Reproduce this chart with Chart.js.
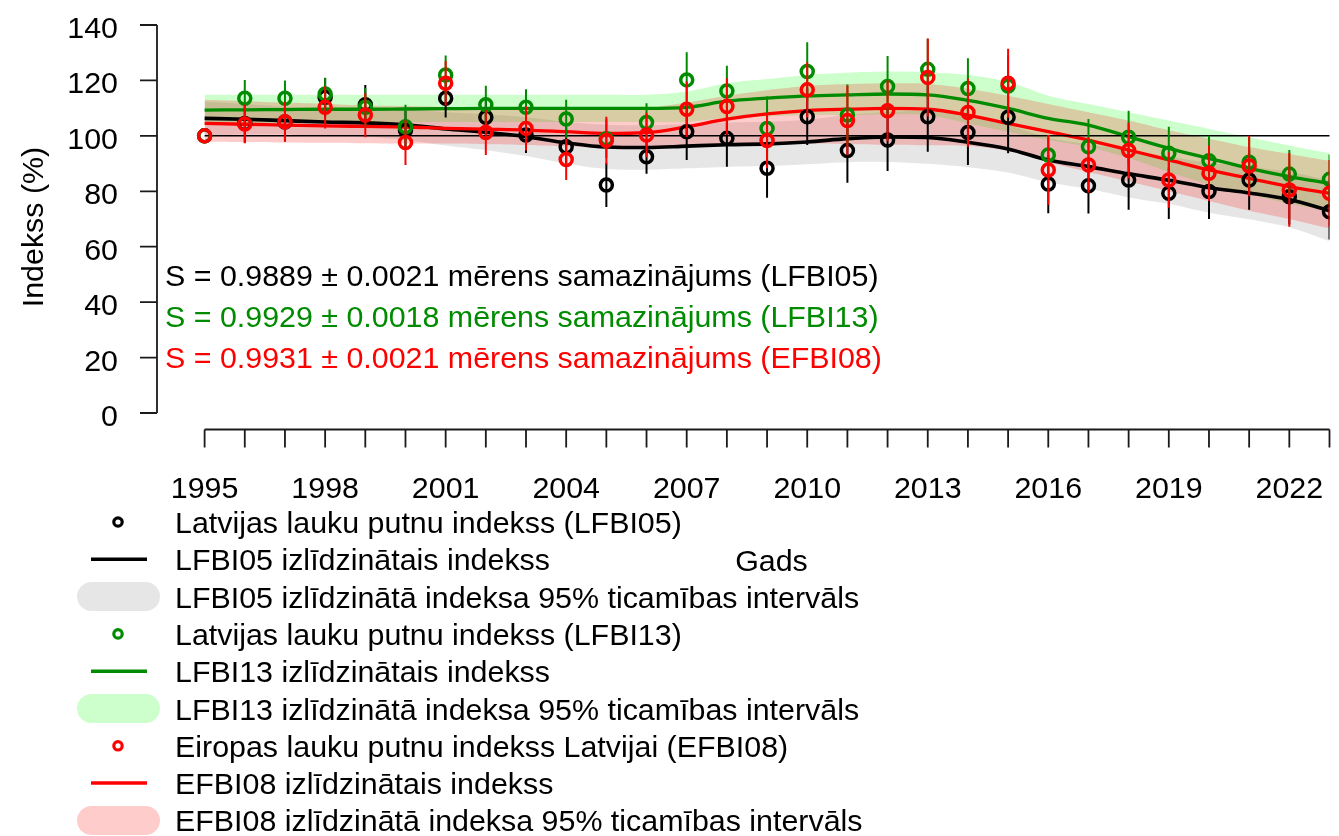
<!DOCTYPE html>
<html>
<head>
<meta charset="utf-8">
<title>Lauku putnu indekss</title>
<script src="https://cdn.jsdelivr.net/npm/chart.js@4/dist/chart.umd.min.js"></script>
<style>
  html, body { margin: 0; padding: 0; background: #ffffff; }
  #wrap { position: relative; width: 1339px; height: 836px; }
</style>
</head>
<body>
<div id="wrap"><canvas id="chart" width="1339" height="836"></canvas></div>
<script>
// ---- data ----
const years = [1995,1996,1997,1998,1999,2000,2001,2002,2003,2004,2005,2006,2007,2008,2009,
               2010,2011,2012,2013,2014,2015,2016,2017,2018,2019,2020,2021,2022,2023];

// LFBI05
const lfbi05    = [100,104.5,105,113.9,111.2,102,113.6,106.7,100.3,96.1,82.3,92.5,101.5,99.1,88.3,
                   106.9,94.7,98.5,106.9,101.2,106.7,82.6,82,84.1,79.3,79.9,84.1,78,72.6];
const lfbi05Err = [0,7,7,7,7.2,7,7,7,6.5,7,8,6.2,10.2,10.2,10.6,
                   10.2,11.6,11.2,12.6,11.7,13,10.5,10,10.8,9.3,9.9,10.8,10,10];
const lfbi05Fit = [106.3,106,105.5,105,104.7,104,102.5,101.3,99.7,97.5,96,95.8,96.3,96.8,97.1,
                   97.8,99,99.6,99.4,97.7,95.3,91.3,88.9,86.3,84,81.3,79.4,77,73];
const lfbi05Lo  = [100.3,100.5,100.5,100,99.7,98.5,96.5,94.8,92.7,90,88,87.8,88.3,88.8,89.1,
                   89.8,90.5,90.6,89.9,88.7,86.8,83.3,80.9,77.8,75.5,72.3,69.9,67,62];
const lfbi05Hi  = [112.3,111.5,110.5,110,109.7,109.5,108.5,107.8,106.7,105,104,103.8,104.3,104.8,105.1,
                   105.8,107.5,108.6,108.9,106.7,103.8,99.3,96.9,94.8,92.5,90.3,88.9,87,84];

// LFBI13
const lfbi13    = [100,113.6,113.6,115.1,110.3,103.3,122,111.2,110.3,106.1,99,104.8,120.2,116.2,102.7,
                   123.2,107.5,117.8,124,117.1,118,93.1,96.1,99.5,93.7,91,90.5,86.2,84.3];
const lfbi13Err = [0,6.6,6.4,5.9,7,7.9,7,6.9,6.5,6.9,7,7,10,9.1,11.5,
                   10.6,11,11,11,10.9,11,7,10,9.6,9.6,9,9,8.7,9];
const lfbi13Fit = [109.3,109.4,109.5,109.6,109.6,109.7,109.8,109.9,109.9,109.9,109.9,109.9,110.3,112.5,113.6,
                   114.4,114.8,115.1,114.8,112.8,109.9,106.3,103.9,99.7,95.5,91.9,88.3,85.3,82.9];
const lfbi13Lo  = [104.5,104.6,104.7,104.8,104.8,104.9,105,105,105,105,105,105,105,106.5,107,
                   107.5,107.5,107.8,107.5,104.5,101.5,98.5,96,92,87,82.5,79,75.5,73];
const lfbi13Hi  = [114.8,114.8,114.8,114.8,114.8,114.8,114.8,114.8,114.8,114.8,114.8,114.8,116,119,120.5,
                   122,122.8,123.2,123,122,119.5,114.5,111.5,108.5,105.5,102.5,99.5,96.5,93.7];

// EFBI08
const efbi08    = [100,104.3,105.1,110.3,107.5,97.6,119,101.2,102.7,91.5,98.3,100.3,109.6,110.6,98.3,
                   116.6,105.5,109.1,121.1,108.4,119,87.7,89.5,94.7,84.1,86.5,89.1,80.5,79.3];
const efbi08Err = [0,7,7.2,7.6,8,8.1,8,8.1,8,7.4,8.6,8,10,10.2,10,
                   10,12.5,11,14,12.3,12.4,12.6,10,10,10,10,10.9,13.3,12];
const efbi08Fit = [104.5,104.2,103.9,103.6,103.4,103.2,102.7,102.4,102.1,101.5,100.9,101.2,103.3,106,107.9,
                   109.1,109.6,109.9,109.6,107.5,104.5,101.5,98.5,94.9,91.3,87.7,84.7,81.7,79.3];
const efbi08Lo  = [97.9,97.8,97.6,97.5,97.3,97.2,97.2,97,96.7,96.2,95.7,95.8,96.5,97,97.2,
                   97.2,97,96.8,96.6,96.3,94.5,90.5,87,83.5,80,76.5,73,70,66.6];
const efbi08Hi  = [113,112.5,112,111.5,111,110.8,110.5,110.3,110,109.5,109.5,110,112,114.5,116.5,
                   118,118.7,119,118.8,117,114.5,111.5,108.5,105.5,102,99,96,93.5,91];

const baseline = 100;
const yTicks = [0,20,40,60,80,100,120,140];
const xLabelYears = [1995,1998,2001,2004,2007,2010,2013,2016,2019,2022];

const statLines = [
  'S = 0.9889 \u00B1 0.0021 m\u0113rens samazin\u0101jums (LFBI05)',
  'S = 0.9929 \u00B1 0.0018 m\u0113rens samazin\u0101jums (LFBI13)',
  'S = 0.9931 \u00B1 0.0021 m\u0113rens samazin\u0101jums (EFBI08)'
];
const legendTexts = [
  'Latvijas lauku putnu indekss (LFBI05)',
  'LFBI05 izl\u012Bdzin\u0101tais indekss',
  'LFBI05 izl\u012Bdzin\u0101t\u0101 indeksa 95% ticam\u012Bbas interv\u0101ls',
  'Latvijas lauku putnu indekss (LFBI13)',
  'LFBI13 izl\u012Bdzin\u0101tais indekss',
  'LFBI13 izl\u012Bdzin\u0101t\u0101 indeksa 95% ticam\u012Bbas interv\u0101ls',
  'Eiropas lauku putnu indekss Latvijai (EFBI08)',
  'EFBI08 izl\u012Bdzin\u0101tais indekss',
  'EFBI08 izl\u012Bdzin\u0101t\u0101 indeksa 95% ticam\u012Bbas interv\u0101ls'
];
const xTitle = 'Gads';
const yTitle = 'Indekss (%)';

// ---- styling ----
const BLACK = '#000000';
const GREEN = '#008B00';
const RED = '#FF0000';
const BAND_GRAY = 'rgba(128,128,128,0.2)';
const BAND_GREEN = 'rgba(0,255,0,0.2)';
const BAND_RED = 'rgba(255,0,0,0.2)';
const FONT = '30.4px "Liberation Sans", Arial, Helvetica, sans-serif';

const xy = (vals) => years.map((yr, i) => ({ x: yr, y: vals[i] }));
const bars = (vals, errs) => {
  const out = [];
  years.forEach((yr, i) => {
    if (!errs[i]) return;
    out.push({ x: yr, y: vals[i] - errs[i] }, { x: yr, y: vals[i] + errs[i] }, { x: yr, y: null });
  });
  return out;
};

const bandLo = (vals, order) => ({
  data: xy(vals), borderWidth: 0, pointRadius: 0, fill: false, tension: 0.3, order
});
const bandHi = (vals, color, order) => ({
  data: xy(vals), borderWidth: 0, pointRadius: 0, fill: '-1', backgroundColor: color, tension: 0.3, order
});
const fitLine = (vals, color, width, order) => ({
  data: xy(vals), borderColor: color, borderWidth: width, pointRadius: 0, fill: false,
  cubicInterpolationMode: 'monotone', order
});
const errLine = (vals, errs, color, order) => ({
  data: bars(vals, errs), borderColor: color, borderWidth: 2, pointRadius: 0, fill: false,
  spanGaps: false, order
});
const pointSet = (vals, color, order) => ({
  data: xy(vals), showLine: false, pointStyle: 'circle', pointRadius: 6, pointBorderWidth: 3.5,
  borderWidth: 3.5, pointBorderColor: color, pointBackgroundColor: 'rgba(0,0,0,0)', borderColor: color, order
});

const datasets = [
  bandLo(lfbi05Lo, 20), bandHi(lfbi05Hi, BAND_GRAY, 20),
  bandLo(lfbi13Lo, 19), bandHi(lfbi13Hi, BAND_GREEN, 19),
  bandLo(efbi08Lo, 18), bandHi(efbi08Hi, BAND_RED, 18),
  fitLine(lfbi05Fit, BLACK, 3.6, 17),
  fitLine(lfbi13Fit, GREEN, 3.3, 16),
  fitLine(efbi08Fit, RED, 3.3, 15),
  { data: [{ x: years[0], y: baseline }, { x: years[years.length - 1] + 1, y: baseline }],
    borderColor: BLACK, borderWidth: 1.5, pointRadius: 0, fill: false, order: 14 },
  errLine(lfbi05, lfbi05Err, BLACK, 13), pointSet(lfbi05, BLACK, 12),
  errLine(lfbi13, lfbi13Err, GREEN, 11), pointSet(lfbi13, GREEN, 10),
  errLine(efbi08, efbi08Err, RED, 9), pointSet(efbi08, RED, 8)
];

// axes, annotations and legend drawn in base-graphics style
const decorPlugin = {
  id: 'decor',
  afterDraw(chart) {
    const { ctx, chartArea } = chart;
    const xs = chart.scales.x, ys = chart.scales.y;
    ctx.save();
    ctx.font = FONT;
    ctx.lineCap = 'butt';

    // y axis
    const ax = chartArea.left;
    ctx.strokeStyle = '#1a1a1a';
    ctx.lineWidth = 1.8;
    ctx.beginPath();
    ctx.moveTo(ax, ys.getPixelForValue(yTicks[0]));
    ctx.lineTo(ax, ys.getPixelForValue(yTicks[yTicks.length - 1]));
    yTicks.forEach(v => {
      const py = ys.getPixelForValue(v);
      ctx.moveTo(ax, py); ctx.lineTo(ax - 17, py);
    });
    ctx.stroke();
    ctx.fillStyle = '#000';
    ctx.textAlign = 'right';
    ctx.textBaseline = 'alphabetic';
    yTicks.forEach(v => ctx.fillText(String(v), ax - 39, ys.getPixelForValue(v) + 13));

    // x axis
    const ay = chartArea.bottom + 1;
    ctx.beginPath();
    ctx.moveTo(xs.getPixelForValue(years[0]), ay);
    ctx.lineTo(xs.getPixelForValue(years[years.length - 1]), ay);
    years.forEach(yr => {
      const px = xs.getPixelForValue(yr);
      ctx.moveTo(px, ay); ctx.lineTo(px, ay + 18);
    });
    ctx.stroke();
    ctx.textAlign = 'center';
    xLabelYears.forEach(yr => ctx.fillText(String(yr), xs.getPixelForValue(yr), 498));

    // axis titles
    ctx.fillText(xTitle, (chartArea.left + 1386) / 2, 571);
    ctx.save();
    ctx.translate(43, 227);
    ctx.rotate(-Math.PI / 2);
    ctx.fillText(yTitle, 0, 0);
    ctx.restore();

    // trend statements
    ctx.textAlign = 'left';
    const statColors = [BLACK, GREEN, RED];
    statLines.forEach((t, i) => {
      ctx.fillStyle = statColors[i];
      ctx.fillText(t, 165, 286 + i * 41);
    });

    // legend
    const keyColors = [BLACK, BLACK, BAND_GRAY, GREEN, GREEN, BAND_GREEN, RED, RED, BAND_RED];
    legendTexts.forEach((t, i) => {
      const cy = 522 + i * 37.3;
      const kind = i % 3;
      const col = keyColors[i];
      if (kind === 0) {
        ctx.strokeStyle = col; ctx.lineWidth = 3.2;
        ctx.beginPath(); ctx.arc(118, cy, 4.2, 0, Math.PI * 2); ctx.stroke();
      } else if (kind === 1) {
        ctx.strokeStyle = col; ctx.lineWidth = 3.5;
        ctx.beginPath(); ctx.moveTo(91, cy); ctx.lineTo(147, cy); ctx.stroke();
      } else {
        ctx.fillStyle = col;
        const x0 = 77, x1 = 160, h = 29, r = h / 2;
        ctx.beginPath();
        ctx.moveTo(x0 + r, cy - r); ctx.lineTo(x1 - r, cy - r);
        ctx.arc(x1 - r, cy, r, -Math.PI / 2, Math.PI / 2);
        ctx.lineTo(x0 + r, cy + r);
        ctx.arc(x0 + r, cy, r, Math.PI / 2, Math.PI * 1.5);
        ctx.closePath(); ctx.fill();
      }
      ctx.fillStyle = '#000';
      ctx.fillText(t, 175, cy + 11);
    });
    ctx.restore();
  }
};

new Chart(document.getElementById('chart'), {
  type: 'line',
  data: { datasets },
  options: {
    responsive: false,
    animation: false,
    events: [],
    layout: { padding: { left: 157, right: 0, top: 9.5, bottom: 407.5 } },
    plugins: { legend: { display: false }, tooltip: { enabled: false },
               filler: { propagate: false } },
    scales: {
      x: { type: 'linear', min: 1993.815, max: 2023, display: false },
      y: { type: 'linear', min: -5.6, max: 145.6, display: false }
    }
  },
  plugins: [decorPlugin]
});
</script>
</body>
</html>
